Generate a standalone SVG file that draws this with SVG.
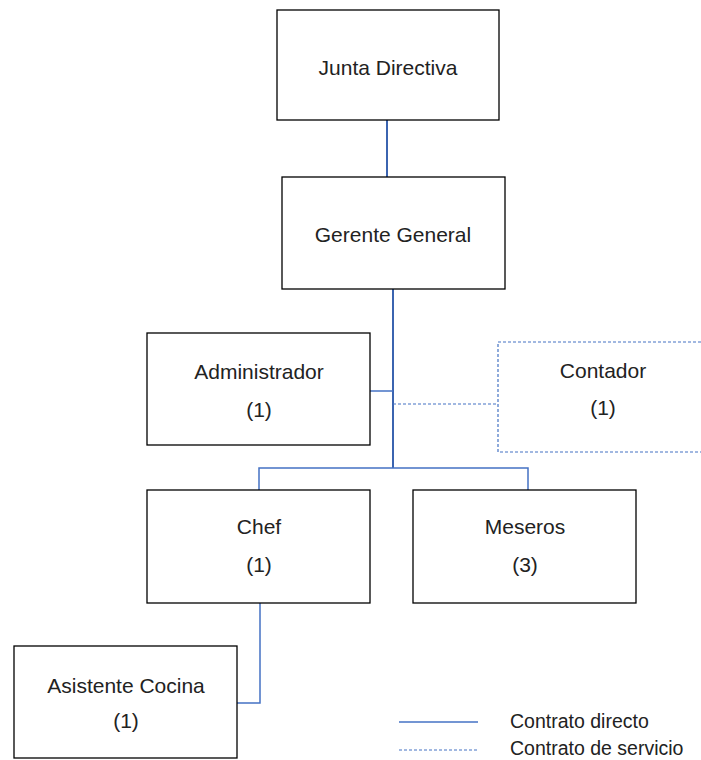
<svg xmlns="http://www.w3.org/2000/svg" width="701" height="760" viewBox="0 0 701 760">
<style>
.box{fill:#fff;stroke:#000;stroke-width:1.3}
.dbox{fill:#fff;stroke:#4472C4;stroke-width:1.2;stroke-dasharray:3 2}
text{font-family:"Liberation Sans",Arial,sans-serif;font-size:21px;fill:#222;text-anchor:middle}
.leg{font-size:19.5px;text-anchor:start}
.ln{fill:none;stroke:#4472C4;stroke-width:1.5}
.trunk{fill:none;stroke:#3B64B0;stroke-width:2}
.dl{fill:none;stroke:#4472C4;stroke-width:1.2;stroke-dasharray:3 2}
</style>
<rect width="701" height="760" fill="#fff"/>
<g id="connectors">
<line class="trunk" x1="387" y1="120" x2="387" y2="177"/>
<line class="trunk" x1="393" y1="289" x2="393" y2="468"/>
<line class="ln" x1="370" y1="391" x2="393" y2="391"/>
<line class="dl" x1="393" y1="404" x2="498" y2="404"/>
<polyline class="ln" points="259,490 259,468 528,468 528,490"/>
<polyline class="ln" points="260,603 260,703 237,703"/>
</g>
<g id="junta">
<rect class="box" x="277" y="10" width="222" height="110"/>
<text x="388" y="75">Junta Directiva</text>
</g>
<g id="gerente">
<rect class="box" x="282" y="177" width="223" height="112"/>
<text x="393" y="242">Gerente General</text>
</g>
<g id="administrador">
<rect class="box" x="147" y="333" width="223" height="112"/>
<text x="259" y="379">Administrador</text>
<text x="259" y="417">(1)</text>
</g>
<g id="contador">
<rect class="dbox" x="498" y="342" width="210" height="110"/>
<text x="603" y="378">Contador</text>
<text x="603" y="415">(1)</text>
</g>
<g id="chef">
<rect class="box" x="147" y="490" width="223" height="113"/>
<text x="259" y="534">Chef</text>
<text x="259" y="572">(1)</text>
</g>
<g id="meseros">
<rect class="box" x="413" y="490" width="223" height="113"/>
<text x="525" y="534">Meseros</text>
<text x="525" y="572">(3)</text>
</g>
<g id="asistente">
<rect class="box" x="14" y="646" width="223" height="112"/>
<text x="126" y="693">Asistente Cocina</text>
<text x="126" y="728">(1)</text>
</g>
<g id="legend">
<line class="ln" x1="399" y1="722" x2="478" y2="722"/>
<line class="dl" x1="399" y1="750" x2="478" y2="750"/>
<text class="leg" x="510" y="728">Contrato directo</text>
<text class="leg" x="510" y="755">Contrato de servicio</text>
</g>
</svg>
